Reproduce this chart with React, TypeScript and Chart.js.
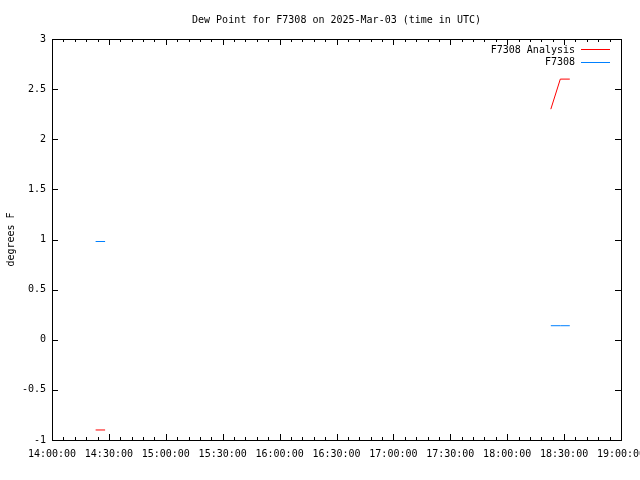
import { useEffect, useRef } from "react";
import { Chart, registerables } from "chart.js";

Chart.register(...registerables);

// ---- data ----
const times = ["14:23:00", "14:28:00", "18:23:00", "18:28:00", "18:33:00"];
const analysisValues = [-0.9, -0.9, 2.3, 2.6, 2.6];
const stationValues = [0.98, 0.98, 0.14, 0.14, 0.14];
const xStart = "14:00:00";
const xEnd = "19:00:00";
const xStepMinutes = 30;
const xMinorPerMajor = 5;
const yMin = -1;
const yMax = 3;
const yStep = 0.5;
const seriesLabels = ["F7308 Analysis", "F7308"];
const seriesColors = ["#ff0000", "#0080ff"];
const titleText = "Dew Point for F7308 on 2025-Mar-03 (time in UTC)";
const yTitle = "degrees F";

const FONT = "'DejaVu Sans Mono', monospace";

function toMin(t: string): number {
  const [h, m, s] = t.split(":").map(Number);
  return h * 60 + m + s / 60;
}
function fmt(min: number): string {
  const h = Math.floor(min / 60);
  const m = Math.round(min % 60);
  return `${String(h).padStart(2, "0")}:${String(m).padStart(2, "0")}:00`;
}

function buildPoints(vals: number[]) {
  const pts: { x: number; y: number | null }[] = [];
  for (let i = 0; i < times.length; i++) {
    const x = toMin(times[i]);
    if (i > 0 && x - toMin(times[i - 1]) > 60) {
      pts.push({ x: (x + toMin(times[i - 1])) / 2, y: null });
    }
    pts.push({ x, y: vals[i] });
  }
  return pts;
}

const decorPlugin = {
  id: "decor",
  afterDraw(chart: any) {
    const { ctx, chartArea: a } = chart;
    const xs = chart.scales.x;
    const ys = chart.scales.y;
    ctx.save();
    ctx.strokeStyle = "#000";
    ctx.lineWidth = 1;
    // frame
    ctx.strokeRect(a.left + 0.5, a.top + 0.5, a.right - a.left, a.bottom - a.top);
    ctx.beginPath();
    // x ticks
    const x0 = toMin(xStart);
    const x1 = toMin(xEnd);
    const minorStep = xStepMinutes / xMinorPerMajor;
    for (let v = x0, k = 0; v <= x1 + 1e-6; v += minorStep, k++) {
      const px = Math.round(xs.getPixelForValue(v)) + 0.5;
      const len = k % xMinorPerMajor === 0 ? 6 : 3;
      ctx.moveTo(px, a.bottom);
      ctx.lineTo(px, a.bottom - len);
      ctx.moveTo(px, a.top);
      ctx.lineTo(px, a.top + len);
    }
    // y ticks
    for (let v = yMin; v <= yMax + 1e-6; v += yStep) {
      const py = Math.round(ys.getPixelForValue(v)) + 0.5;
      ctx.moveTo(a.left, py);
      ctx.lineTo(a.left + 6, py);
      ctx.moveTo(a.right, py);
      ctx.lineTo(a.right - 6, py);
    }
    ctx.stroke();

    ctx.fillStyle = "#000";
    ctx.font = `10px ${FONT}`;
    ctx.textBaseline = "middle";
    // title
    ctx.textAlign = "center";
    ctx.fillText(titleText, (a.left + a.right) / 2, 20);
    // y title
    ctx.save();
    ctx.translate(11, (a.top + a.bottom) / 2);
    ctx.rotate(-Math.PI / 2);
    ctx.fillText(yTitle, 0, 0);
    ctx.restore();
    // legend
    ctx.textAlign = "right";
    for (let i = 0; i < seriesLabels.length; i++) {
      const y = 50 + i * 12.7;
      ctx.fillStyle = "#000";
      ctx.fillText(seriesLabels[i], 575, y);
      ctx.strokeStyle = seriesColors[i];
      ctx.beginPath();
      ctx.moveTo(581, Math.round(y) - 0.5);
      ctx.lineTo(610, Math.round(y) - 0.5);
      ctx.stroke();
    }
    ctx.restore();
  },
};

export default function App() {
  const ref = useRef<HTMLCanvasElement>(null);
  useEffect(() => {
    document.body.style.margin = "0";
    const chart = new Chart(ref.current!, {
      type: "line",
      data: {
        datasets: [
          {
            label: seriesLabels[0],
            data: buildPoints(analysisValues),
            borderColor: seriesColors[0],
            borderWidth: 1,
            pointRadius: 0,
            spanGaps: false,
          },
          {
            label: seriesLabels[1],
            data: buildPoints(stationValues),
            borderColor: seriesColors[1],
            borderWidth: 1,
            pointRadius: 0,
            spanGaps: false,
          },
        ],
      } as any,
      options: {
        animation: false,
        responsive: false,
        layout: { padding: { left: 0, right: 19, top: 39, bottom: 0 } },
        plugins: {
          legend: { display: false },
          title: { display: false },
          tooltip: { enabled: false },
        },
        scales: {
          x: {
            type: "linear",
            min: toMin(xStart),
            max: toMin(xEnd),
            grid: { display: false, drawTicks: false },
            border: { display: false },
            ticks: {
              stepSize: xStepMinutes,
              autoSkip: false,
              maxRotation: 0,
              padding: 8,
              color: "#000",
              font: { family: FONT, size: 10 },
              callback: (v: any) => fmt(Number(v)),
            },
            afterFit: (s: any) => {
              s.height = 40;
              s.paddingLeft = 0;
              s.paddingRight = 0;
            },
          },
          y: {
            min: yMin,
            max: yMax,
            grid: { display: false, drawTicks: false },
            border: { display: false },
            ticks: {
              stepSize: yStep,
              padding: 6,
              color: "#000",
              font: { family: FONT, size: 10 },
              callback: (v: any) => String(Number(v)),
            },
            afterFit: (s: any) => {
              s.width = 52;
              s.paddingTop = 0;
              s.paddingBottom = 0;
            },
          },
        },
      },
      plugins: [decorPlugin],
    });
    return () => chart.destroy();
  }, []);
  return <canvas ref={ref} width={640} height={480} style={{ display: "block" }} />;
}
